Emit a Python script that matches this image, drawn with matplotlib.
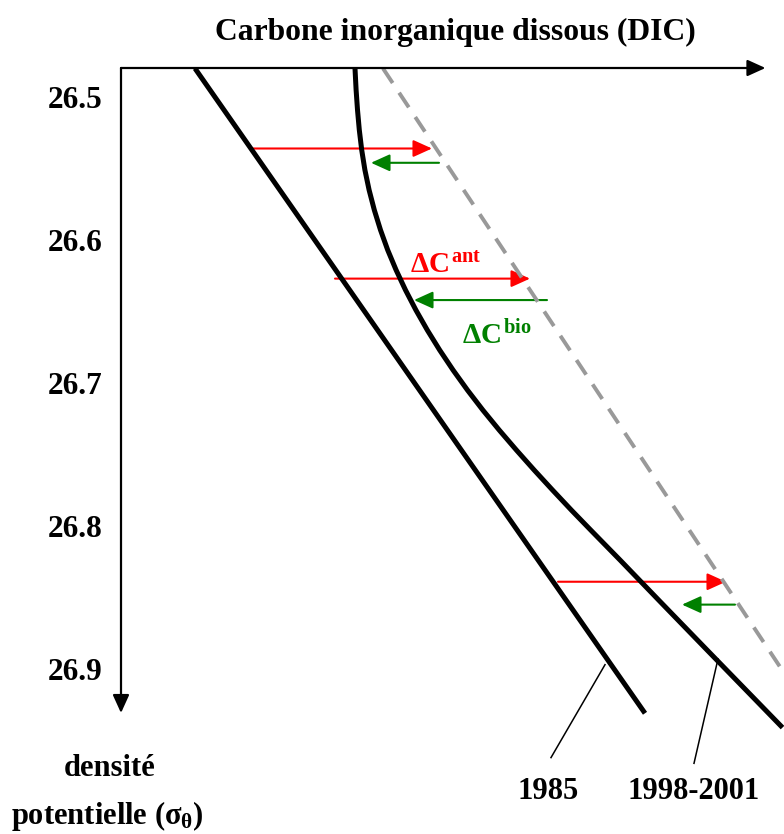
import matplotlib
matplotlib.use("Agg")
import matplotlib.pyplot as plt
from matplotlib.patches import FancyArrowPatch

plt.rcParams['font.family'] = ['Liberation Serif', 'DejaVu Serif']
plt.rcParams['font.weight'] = 'bold'
plt.rcParams['mathtext.fontset'] = 'custom'
plt.rcParams['mathtext.rm'] = 'Liberation Serif:bold'
plt.rcParams['mathtext.it'] = 'Liberation Serif:bold'
plt.rcParams['mathtext.bf'] = 'Liberation Serif:bold'

# ---- data (DIC in arbitrary units, sigma-theta) ----
sigma_ticks = [26.5, 26.6, 26.7, 26.8, 26.9]
tick_labels = ["26.5", "26.6", "26.7", "26.8", "26.9"]

dic_1985 = [74, 524]
sig_1985 = [26.480, 26.931]

dic_1998 = [234, 235.1, 236.5, 238.3, 240.7, 243.9, 248.1, 253.3, 259.5, 266.7,
            275.1, 284.5, 294.9, 306.3, 318.7, 332.1, 346.5, 361.9, 378.3, 395.5,
            413.3, 431.7, 450.5, 469.9, 499.3, 537.9, 586.4, 661.5]
sig_1998 = [26.480, 26.495, 26.509, 26.523, 26.537, 26.551, 26.565, 26.579, 26.593, 26.607,
            26.621, 26.635, 26.649, 26.663, 26.677, 26.691, 26.705, 26.719, 26.733, 26.747,
            26.761, 26.775, 26.789, 26.803, 26.824, 26.852, 26.887, 26.941]

dic_ref = [262, 668]
sig_ref = [26.480, 26.908]

# anthropogenic increase arrows (sigma, start, end)
ant_sig = [26.536, 26.627, 26.839]
ant_start = [131, 214, 437]
ant_end = [311, 409, 605]

# biological change arrows
bio_sig = [26.546, 26.642, 26.855]
bio_start = [318, 426, 614]
bio_end = [250, 293, 561]

W, H = 784, 834
fig = plt.figure(figsize=(W / 100, H / 100), dpi=100)
ax = fig.add_axes([121 / W, 1 - 713 / H, 663 / W, (713 - 68) / H])
ax.set_xlim(0, 663)
ax.set_ylim(26.9308, 26.4797)
for s in ax.spines.values():
    s.set_visible(False)
ax.set_xticks([])
ax.set_yticks(sigma_ticks)
ax.set_yticklabels(tick_labels, fontsize=22.5, fontweight='bold')
ax.tick_params(axis='y', length=0, pad=13)

# axes arrows
ax.annotate('', xy=(0.972, 1), xytext=(0, 1), xycoords='axes fraction',
            arrowprops=dict(arrowstyle='-|>,head_length=1.1,head_width=0.5', lw=1.6,
                            color='black', shrinkA=0, shrinkB=0, mutation_scale=10))
ax.annotate('', xy=(0, 0), xytext=(0, 1), xycoords='axes fraction',
            arrowprops=dict(arrowstyle='-|>,head_length=1.1,head_width=0.5', lw=1.6,
                            color='black', shrinkA=0, shrinkB=0, mutation_scale=10))

# curves
ax.plot(dic_1985, sig_1985, color='black', lw=3.6, clip_on=False, solid_capstyle='butt')
ax.plot(dic_1998, sig_1998, color='black', lw=3.6, clip_on=False, solid_capstyle='butt',
        solid_joinstyle='round')
ax.plot(dic_ref, sig_ref, color='#999999', lw=2.8, ls=(0, (4.5, 3.0)), clip_on=False)

for s, a, b in zip(ant_sig, ant_start, ant_end):
    ax.add_patch(FancyArrowPatch((a, s), (b, s), arrowstyle='-|>,head_length=1.15,head_width=0.52',
                                 mutation_scale=10, lw=1.5, color='#ff0000',
                                 shrinkA=0, shrinkB=0, clip_on=False))
for s, a, b in zip(bio_sig, bio_start, bio_end):
    ax.add_patch(FancyArrowPatch((a, s), (b, s), arrowstyle='-|>,head_length=1.15,head_width=0.52',
                                 mutation_scale=10, lw=1.5, color='#008000',
                                 shrinkA=0, shrinkB=0, clip_on=False))

# labels
ax.text(289, 26.6228, r'$\Delta C^{ant}$', color='#ff0000', fontsize=21,
        ha='left', va='baseline')
ax.text(341, 26.673, r'$\Delta C^{bio}$', color='#008000', fontsize=21,
        ha='left', va='baseline')

# leader lines
ax.plot([484, 430], [26.897, 26.962], color='black', lw=1.1, clip_on=False)
ax.plot([597, 573], [26.893, 26.966], color='black', lw=1.1, clip_on=False)

def ftext(x, y, s, size=22, **kw):
    fig.text(x / W, 1 - y / H, s, fontweight='bold', fontsize=size, **kw)

ftext(455, 40, 'Carbone inorganique dissous (DIC)', size=22.8, ha='center', va='baseline')
ftext(548, 799, '1985', ha='center', va='baseline')
ftext(694, 799, '1998-2001', ha='center', va='baseline')
ftext(110, 776, 'densité', ha='center', va='baseline')
ftext(107, 824, r'potentielle ($\sigma_\theta$)', ha='center', va='baseline')

fig.savefig('out.png', dpi=100)
